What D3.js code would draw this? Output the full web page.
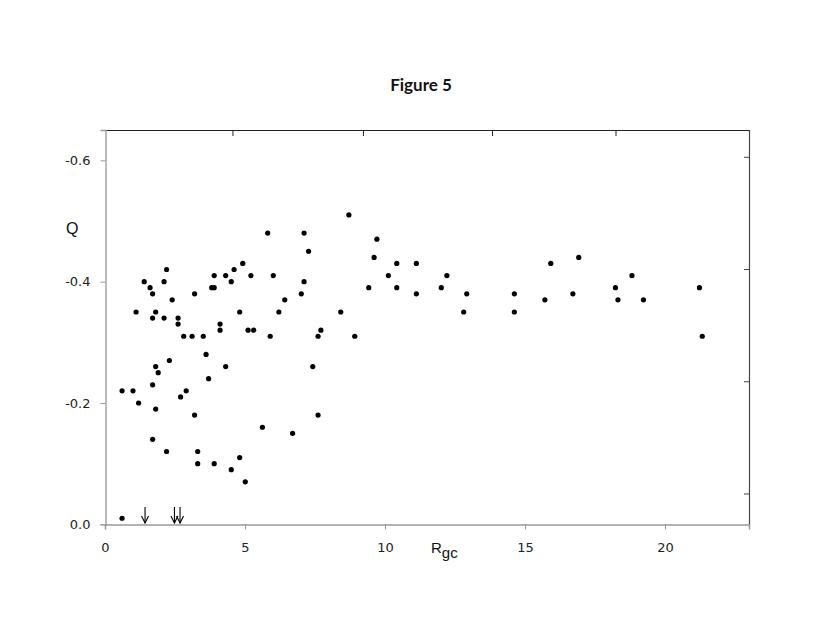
<!DOCTYPE html>
<html><head><meta charset="utf-8">
<script src="https://cdn.jsdelivr.net/npm/d3@7"></script>
<style>body{margin:0;background:#fff}svg{display:block}</style>
</head><body>
<svg id="c" width="830" height="642"></svg>
<script>
const rgc = [0.61,1.0,0.61,1.2,1.11,1.40,1.61,1.70,1.70,1.81,2.11,2.20,2.11,2.40,2.61,2.61,2.81,3.11,3.20,3.51,3.61,3.70,3.81,3.90,3.90,4.11,4.11,4.31,4.31,4.51,4.61,4.81,4.92,5.11,5.21,5.31,5.81,5.90,6.01,6.21,6.42,7.01,7.11,7.11,7.27,
1.70,1.81,1.90,2.30,1.81,2.70,2.90,3.20,1.70,2.20,3.31,3.31,3.90,4.51,4.81,5.01,5.62,6.70,
7.71,7.61,7.42,7.61,8.42,8.71,8.92,9.42,9.61,9.71,10.12,10.42,10.42,11.12,11.12,12.01,12.21,12.81,12.92,14.62,14.62,
15.71,15.92,16.71,16.92,18.23,18.32,18.82,19.23,21.23,21.33];
const qVal = [-0.01,-0.22,-0.22,-0.20,-0.35,-0.40,-0.39,-0.38,-0.34,-0.35,-0.40,-0.42,-0.34,-0.37,-0.34,-0.33,-0.31,-0.31,-0.38,-0.31,-0.28,-0.24,-0.39,-0.39,-0.41,-0.33,-0.32,-0.41,-0.26,-0.40,-0.42,-0.35,-0.43,-0.32,-0.41,-0.32,-0.48,-0.31,-0.41,-0.35,-0.37,-0.38,-0.40,-0.48,-0.45,
-0.23,-0.26,-0.25,-0.27,-0.19,-0.21,-0.22,-0.18,-0.14,-0.12,-0.12,-0.10,-0.10,-0.09,-0.11,-0.07,-0.16,-0.15,
-0.32,-0.31,-0.26,-0.18,-0.35,-0.51,-0.31,-0.39,-0.44,-0.47,-0.41,-0.43,-0.39,-0.43,-0.38,-0.39,-0.41,-0.35,-0.38,-0.38,-0.35,
-0.37,-0.43,-0.38,-0.44,-0.39,-0.37,-0.41,-0.37,-0.39,-0.31];
const arrowX = [1.43,2.48,2.68];
const xTicks = [0,5,10,15,20];
const yTicks = [0,-0.2,-0.4,-0.6];
const yTickLabels = ["0.0","-0.2","-0.4","-0.6"];
const topTicks = [4.57,9.23,13.84,18.25];
const rightTicks = [-0.05,-0.235,-0.42,-0.605];

const svg = d3.select("#c");
const x = d3.scaleLinear().domain([0,23]).range([105,749]);
const y = d3.scaleLinear().domain([0,-0.65]).range([524.3,130]);

// title
svg.append("text").attr("x",421).attr("y",91).attr("text-anchor","middle")
  .attr("font-family","Lato,'Open Sans',sans-serif").attr("font-weight","bold").attr("font-size",17)
  .attr("fill","#111").text("Figure 5");

// frame: top and right
svg.append("line").attr("x1",105).attr("x2",749.5).attr("y1",130.5).attr("y2",130.5).attr("stroke","#222").attr("stroke-width",1.2);
svg.append("line").attr("x1",749.5).attr("x2",749.5).attr("y1",130).attr("y2",525).attr("stroke","#444").attr("stroke-width",1.2);
// top ticks
svg.append("g").selectAll("line").data(topTicks).join("line")
  .attr("x1",d=>x(d)).attr("x2",d=>x(d)).attr("y1",130).attr("y2",136).attr("stroke","#222");
// right ticks
svg.append("g").selectAll("line").data(rightTicks).join("line")
  .attr("x1",744).attr("x2",749.5).attr("y1",d=>y(d)).attr("y2",d=>y(d)).attr("stroke","#444");

// left axis
const gy = svg.append("g").attr("transform","translate(105.5,0)")
  .call(d3.axisLeft(y).tickValues(yTicks).tickFormat((d,i)=>yTickLabels[i]).tickSize(5).tickPadding(10));
gy.select(".domain").attr("stroke","#999").attr("stroke-width",1.3);
gy.selectAll(".tick line").attr("stroke","#999");
gy.selectAll(".tick text").attr("font-family","'DejaVu Sans',sans-serif").attr("font-size",13).attr("fill","#222");

// bottom axis
const gx = svg.append("g").attr("transform","translate(0,524.5)")
  .call(d3.axisBottom(x).tickValues(xTicks).tickFormat(d3.format("d")).tickSize(5).tickPadding(13));
gx.select(".domain").attr("stroke","#999").attr("stroke-width",1.5);
gx.selectAll(".tick line").attr("stroke","#999");
gx.selectAll(".tick text").attr("font-family","'DejaVu Sans',sans-serif").attr("font-size",13).attr("fill","#222");

// axis titles
svg.append("text").attr("x",66).attr("y",234).attr("font-family","'Liberation Sans',Arial,sans-serif")
  .attr("font-size",16).attr("fill","#111").text("Q");
const rt = svg.append("text").attr("x",431).attr("y",553).attr("font-family","'Liberation Sans',Arial,sans-serif")
  .attr("font-size",15).attr("fill","#111");
rt.append("tspan").text("R");
rt.append("tspan").attr("dy",5).attr("font-size",15).text("gc");

// points
const pts = rgc.map((v,i)=>({x:v,q:qVal[i]}));
svg.append("g").selectAll("circle").data(pts).join("circle")
  .attr("cx",d=>x(d.x)).attr("cy",d=>y(d.q)).attr("r",2.6).attr("fill","#000");

// arrows
const ag = svg.append("g").attr("stroke","#000").attr("stroke-width",1.1).attr("fill","none");
arrowX.forEach(a=>{
  const px = x(a);
  ag.append("line").attr("x1",px).attr("x2",px).attr("y1",507).attr("y2",523);
  ag.append("path").attr("d",`M${px-3.5},516 L${px},523 L${px+3.5},516`);
});
</script>
</body></html>
